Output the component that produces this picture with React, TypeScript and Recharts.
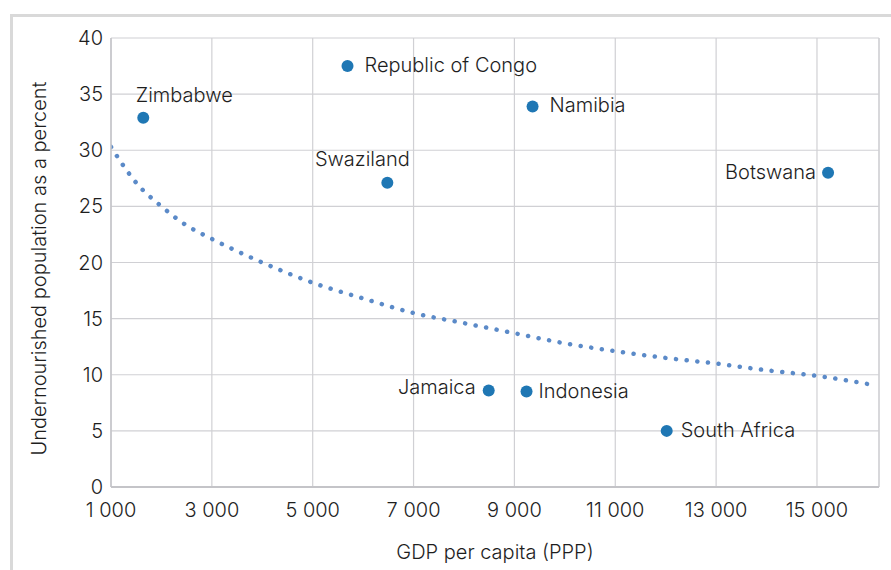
import { ComposedChart, Scatter, Line, XAxis, YAxis, CartesianGrid, ReferenceLine } from 'recharts';

const countries = ['Zimbabwe', 'Republic of Congo', 'Swaziland', 'Namibia', 'Botswana', 'Jamaica', 'Indonesia', 'South Africa'];
const gdpPerCapita = [1640, 5690, 6480, 9360, 15220, 8490, 9240, 12020];
const undernourished = [32.9, 37.5, 27.1, 33.9, 28.0, 8.6, 8.5, 5.0];

// dotted trend curve
const trendGdp = [1000, 1250, 1500, 2000, 2500, 3000, 4000, 5000, 6000, 7000, 8000, 9000, 10000, 11000, 12000, 13000, 14000, 15000, 16100];
const trendValue = [30.3, 28.6, 27.1, 25.0, 23.3, 22.1, 20.0, 18.2, 16.8, 15.5, 14.6, 13.7, 12.8, 12.1, 11.5, 11.0, 10.4, 9.9, 9.1];

const xTicks = [1000, 3000, 5000, 7000, 9000, 11000, 13000, 15000];
const yTicks = [0, 5, 10, 15, 20, 25, 30, 35, 40];

const X_MAX = 16230;
const FONT = 'Inter, "Liberation Sans", Arial, sans-serif';
const WEIGHT = 300;
const TEXT = '#1e1e1e';
const GRID = '#d0d0d4';

const labelPlacement: Record<string, { anchor: 'start' | 'middle' | 'end'; dx: number; dy: number }> = {
  Zimbabwe: { anchor: 'middle', dx: 41, dy: -23 },
  'Republic of Congo': { anchor: 'start', dx: 17, dy: -1 },
  Swaziland: { anchor: 'middle', dx: -25, dy: -24 },
  Namibia: { anchor: 'start', dx: 17, dy: -1 },
  Botswana: { anchor: 'end', dx: -12, dy: -1 },
  Jamaica: { anchor: 'end', dx: -13, dy: -3 },
  Indonesia: { anchor: 'start', dx: 12, dy: -1 },
  'South Africa': { anchor: 'start', dx: 14, dy: -1 },
};

const points = countries.map((name, i) => ({ name, gdp: gdpPerCapita[i], value: undernourished[i] }));
const trend = trendGdp.map((gdp, i) => ({ gdp, trend: trendValue[i] }));

const fmt = (v: number) => String(v).replace(/\B(?=(\d{3})+(?!\d))/g, ' ');

function CountryDot(props: any) {
  const { cx, cy, payload } = props;
  const p = labelPlacement[payload.name];
  return (
    <g>
      <circle cx={cx} cy={cy} r={6} fill="#1f77b4" />
      <text
        x={cx + p.dx}
        y={cy + p.dy}
        textAnchor={p.anchor}
        dominantBaseline="central"
        fontSize={20}
        fontWeight={WEIGHT}
        fontFamily={FONT}
        fill={TEXT}
      >
        {payload.name}
      </text>
    </g>
  );
}

export default function App() {
  return (
    <div style={{ position: 'fixed', left: 0, top: 0, width: 891, height: 570, overflow: 'hidden', background: '#fff' }}>
      <div style={{ position: 'absolute', left: 10, top: 14, width: 950, height: 650, border: '3px solid #d9d9d9' }} />
      <div style={{ position: 'absolute', left: 0, top: 0 }}>
        <ComposedChart width={891} height={570} margin={{ top: 38, right: 12, bottom: 0, left: 0 }}>
          <CartesianGrid stroke={GRID} strokeWidth={1.2} />
          <ReferenceLine x={X_MAX} stroke={GRID} strokeWidth={1.2} />
          <XAxis
            type="number"
            dataKey="gdp"
            domain={[1000, X_MAX]}
            ticks={xTicks}
            allowDataOverflow
            tickFormatter={fmt}
            tickLine={false}
            tickSize={0}
            tickMargin={16}
            height={83}
            axisLine={{ stroke: '#c4c4c8', strokeWidth: 2 }}
            tick={{ fill: TEXT, fontSize: 20, fontWeight: WEIGHT, fontFamily: FONT }}
            label={{ value: 'GDP per capita (PPP)', position: 'insideBottom', offset: 11, fill: TEXT, fontSize: 20, fontWeight: WEIGHT, fontFamily: FONT }}
          />
          <YAxis
            type="number"
            domain={[0, 40]}
            ticks={yTicks}
            tickLine={false}
            tickSize={0}
            tickMargin={8}
            width={111}
            axisLine={{ stroke: '#c4c4c8', strokeWidth: 1.5 }}
            tick={{ fill: TEXT, fontSize: 20, fontWeight: WEIGHT, fontFamily: FONT }}
            label={{
              value: 'Undernourished population as a percent',
              angle: -90,
              position: 'insideLeft',
              offset: 39,
              dy: 6,
              style: { textAnchor: 'middle' },
              fill: TEXT,
              fontSize: 20,
              fontWeight: WEIGHT,
              fontFamily: FONT,
            }}
          />
          <Line
            data={trend}
            dataKey="trend"
            type="monotone"
            stroke="#5b8ac8"
            strokeWidth={4.5}
            strokeLinecap="round"
            strokeDasharray="0.1 10.6"
            dot={false}
            activeDot={false}
            isAnimationActive={false}
          />
          <Scatter data={points} dataKey="value" shape={CountryDot} isAnimationActive={false} />
        </ComposedChart>
      </div>
    </div>
  );
}
